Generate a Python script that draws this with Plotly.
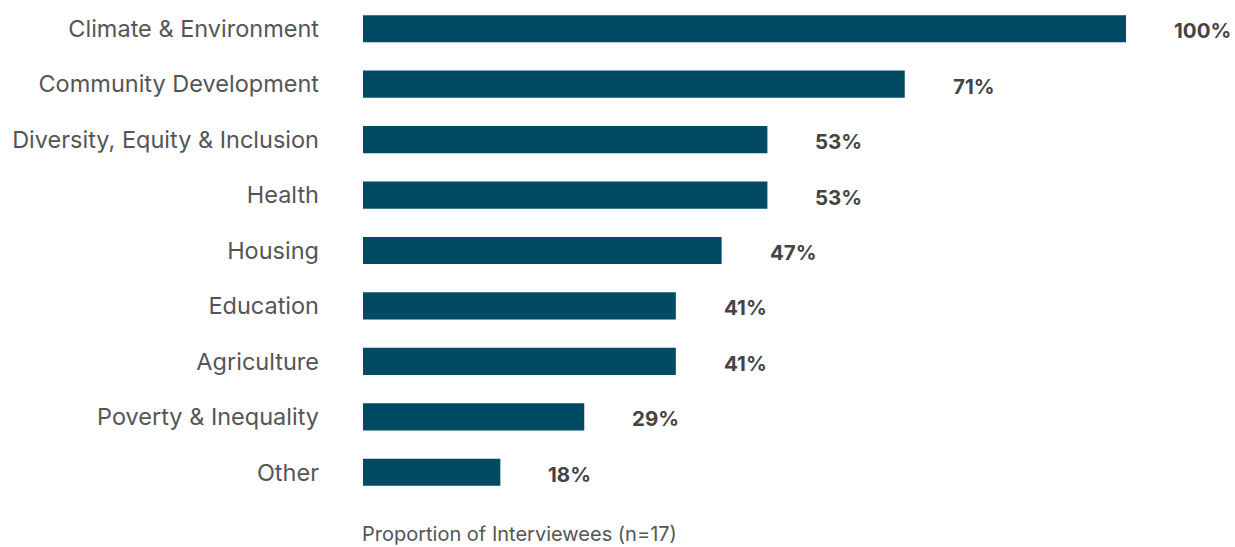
import plotly.graph_objects as go

categories = [
    "Climate & Environment",
    "Community Development",
    "Diversity, Equity & Inclusion",
    "Health",
    "Housing",
    "Education",
    "Agriculture",
    "Poverty & Inequality",
    "Other",
]
shares = [100, 71, 53, 53, 47, 41, 41, 29, 18]
value_labels = ["100%", "71%", "53%", "53%", "47%", "41%", "41%", "29%", "18%"]

BAR_COLOR = "#004a63"
FONT = "Inter"

fig = go.Figure(
    go.Bar(
        x=shares,
        y=categories,
        orientation="h",
        marker=dict(color=BAR_COLOR, line=dict(width=0)),
        hoverinfo="skip",
    )
)

# value labels sit a fixed distance to the right of each bar end
for cat, val, lab in zip(categories, shares, value_labels):
    fig.add_annotation(
        x=val, y=cat, xref="x", yref="y",
        text=f"<b>{lab}</b>", showarrow=False,
        xanchor="left", xshift=46, yshift=-2,
        font=dict(family=FONT, size=20.5, color="#444444"),
    )

fig.add_annotation(
    x=0, y=0, xref="paper", yref="paper",
    text="Proportion of Interviewees (n=17)", showarrow=False,
    xanchor="left", yanchor="bottom", yshift=-47, xshift=-2,
    borderpad=0,
    font=dict(family=FONT, size=20, color="#555555"),
)

fig.update_layout(
    width=1235, height=547,
    margin=dict(l=363, r=109, t=1, b=47),
    paper_bgcolor="white", plot_bgcolor="white",
    bargap=0.51,
    showlegend=False,
    xaxis=dict(range=[0, 100], visible=False, fixedrange=True),
    yaxis=dict(
        categoryorder="array", categoryarray=categories,
        autorange="reversed",
        showgrid=False, zeroline=False, showline=False, ticks="",
        ticklabelstandoff=43,
        tickfont=dict(family=FONT, size=23.5, color="#555555"),
    ),
)

fig.write_html("out.html")
